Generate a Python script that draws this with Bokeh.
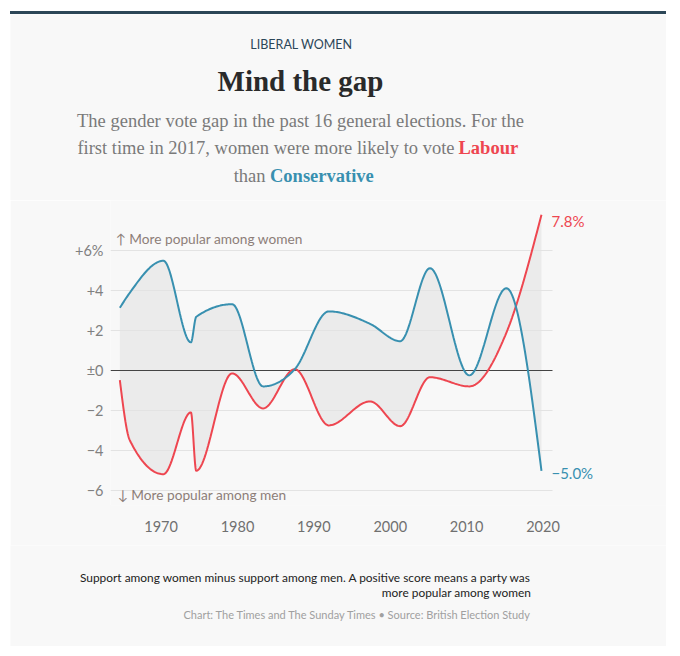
import numpy as np
from bokeh.plotting import figure
from bokeh.models import Range1d, FixedTicker, Label, Grid, Div, Plot
from bokeh.layouts import column, row
from bokeh.embed import file_html
from bokeh.resources import INLINE

# ---------------- data ----------------
# position of each general election on the time axis, as drawn
election_x = [1964.6, 1965.9, 1970.3, 1973.9, 1974.6, 1979.3, 1983.35, 1987.5,
              1991.95, 1997.35, 2001.3, 2005.2, 2010.35, 2015.2, 2019.8]
# support among women minus support among men (percentage points)
conservative = [3.15, 3.9, 5.5, 1.42, 2.7, 3.33, -0.78, 0.08,
                2.97, 2.35, 1.48, 5.13, -0.23, 4.13, -5.0]
labour = [-0.47, -3.47, -5.17, -2.08, -5.0, -0.13, -1.88, 0.08,
          -2.73, -1.53, -2.77, -0.32, -0.78, 1.9, 7.8]
x_ticks = [1970, 1980, 1990, 2000, 2010, 2020]
x_tick_labels = ["1970", "1980", "1990", "2000", "2010", "2020"]
y_ticks = [-6, -4, -2, 0, 2, 4, 6]
y_tick_labels = ["\u22126", "\u22124", "\u22122", "\u00b10", "+2", "+4", "+6%"]

# ---------------- style ----------------
BG = "#f8f8f8"
RED = "#ee4650"
BLUE = "#3890b0"
SANS = "Lato"
SERIF = "Liberation Serif"
W = 656
HAS_ALIGN = "frame_align" in Plot.properties()


def monotone_x(xs, ys, n=30):
    """Smooth monotone-x cubic path through the points (like d3.curveMonotoneX)."""
    xs = np.asarray(xs, float)
    ys = np.asarray(ys, float)
    m = len(xs)
    h = np.diff(xs)
    s = np.diff(ys) / h
    sg = lambda v: -1.0 if v < 0 else 1.0
    t = np.zeros(m)
    for i in range(1, m - 1):
        p_ = (s[i - 1] * h[i] + s[i] * h[i - 1]) / (h[i - 1] + h[i])
        t[i] = (sg(s[i - 1]) + sg(s[i])) * min(abs(s[i - 1]), abs(s[i]), 0.5 * abs(p_))
    t[0] = (3 * s[0] - t[1]) / 2
    t[-1] = (3 * s[-1] - t[-2]) / 2
    u = np.linspace(0, 1, n + 1)
    ox, oy = [], []
    for i in range(m - 1):
        x0, x1, y0, y1 = xs[i], xs[i + 1], ys[i], ys[i + 1]
        dx = (x1 - x0) / 3
        c0 = y0 + dx * t[i]
        c1 = y1 - dx * t[i + 1]
        uu = u if i == 0 else u[1:]
        by = (1 - uu) ** 3 * y0 + 3 * (1 - uu) ** 2 * uu * c0 + 3 * (1 - uu) * uu ** 2 * c1 + uu ** 3 * y1
        ox.extend((x0 + (x1 - x0) * uu).tolist())
        oy.extend(by.tolist())
    return ox, oy


# page-pixel -> data helpers for the chart panel (layout only)
def X(px):
    return 1970 + (px - 160.6) / 7.638


def Y(py):
    return (370.3 - py) / 20.0


def blank(height, y_top, y_bottom):
    f = figure(width=W, height=height, output_backend="svg", toolbar_location=None,
               x_range=Range1d(10, 10 + W), y_range=Range1d(y_bottom, y_top),
               x_axis_type=None, y_axis_type=None,
               min_border=0, min_border_left=0, min_border_right=0,
               min_border_top=0, min_border_bottom=0,
               background_fill_color=BG, border_fill_color=BG, outline_line_color=None,
               margin=(0, 0, 0, 10))
    f.xgrid.visible = False
    f.ygrid.visible = False
    if HAS_ALIGN:
        f.frame_align = False
    return f


# ---------------- header ----------------
head = blank(186, 14, 200)
head.add_layout(Label(x=301, y=44, text="LIBERAL WOMEN", text_color="#2b4658",
                      text_font=SANS, text_font_size="12.5px", text_align="center", text_baseline="middle"))
head.add_layout(Label(x=300, y=80, text="Mind the gap", text_color="#2a2a2a",
                      text_font=SERIF, text_font_style="bold", text_font_size="29px",
                      text_align="center", text_baseline="middle"))
SUB = "#7a7a7a"
head.add_layout(Label(x=300, y=120.4, text="The gender vote gap in the past 16 general elections. For the",
                      text_color=SUB, text_font=SERIF, text_font_size="18.5px",
                      text_align="center", text_baseline="middle"))
head.add_layout(Label(x=454, y=147.7, text="first time in 2017, women were more likely to vote",
                      text_color=SUB, text_font=SERIF, text_font_size="18.5px",
                      text_align="right", text_baseline="middle"))
head.add_layout(Label(x=458, y=147.7, text="Labour",
                      text_color=RED, text_font=SERIF, text_font_style="bold", text_font_size="18.5px",
                      text_align="left", text_baseline="middle"))
head.add_layout(Label(x=265, y=175.4, text="than",
                      text_color=SUB, text_font=SERIF, text_font_size="18.5px",
                      text_align="right", text_baseline="middle"))
head.add_layout(Label(x=269.5, y=175.4, text="Conservative",
                      text_color=BLUE, text_font=SERIF, text_font_style="bold", text_font_size="18.5px",
                      text_align="left", text_baseline="middle"))

# ---------------- chart ----------------
p = figure(width=W, height=345, output_backend="svg", toolbar_location=None,
           x_range=Range1d(X(110), X(666)), y_range=Range1d(Y(505), Y(200)),
           min_border_left=100, min_border_right=0, min_border_top=0, min_border_bottom=40,
           background_fill_color=BG, border_fill_color=BG, outline_line_color=None,
           margin=(0, 0, 0, 10))
if HAS_ALIGN:
    p.frame_align = False

p.xaxis.ticker = FixedTicker(ticks=x_ticks)
p.xaxis.major_label_overrides = {t: l for t, l in zip(x_ticks, x_tick_labels)}
p.yaxis.ticker = FixedTicker(ticks=y_ticks)
p.yaxis.major_label_overrides = {t: l for t, l in zip(y_ticks, y_tick_labels)}
for ax in (p.xaxis[0], p.yaxis[0]):
    ax.axis_line_color = None
    ax.major_tick_line_color = None
    ax.minor_tick_line_color = None
    ax.major_label_text_font = SANS
    ax.major_label_text_font_size = "14.5px"
    ax.major_label_text_color = "#808080"
p.xaxis.major_label_standoff = 9
p.yaxis.major_label_standoff = 1
p.xaxis.major_label_text_color = "#707070"
p.xgrid.visible = False
p.ygrid.visible = False

# plotted domain ends at the right edge of the grid; the strip beyond holds the end labels
x_domain = (X(110), X(552))

cx, cy = monotone_x(election_x, conservative)
lx, ly = monotone_x(election_x, labour)
p.varea(x=cx, y1=ly, y2=cy, fill_color="#ebebeb", level="underlay")

has_cross = "cross_bounds" in Grid.properties()
grid = Grid(dimension=1, ticker=FixedTicker(ticks=[t for t in y_ticks if t != 0]),
            grid_line_color="#e3e3e3", grid_line_width=1)
zero = Grid(dimension=1, ticker=FixedTicker(ticks=[0]), grid_line_color="#444444", grid_line_width=1)
if has_cross:
    grid.cross_bounds = x_domain
    zero.cross_bounds = x_domain
    p.add_layout(grid)
    p.add_layout(zero)
else:
    gy = [t for t in y_ticks if t != 0]
    p.segment(x0=[x_domain[0]] * len(gy), y0=gy, x1=[x_domain[1]] * len(gy), y1=gy,
              line_color="#e3e3e3", line_width=1, level="underlay")
    p.segment(x0=[x_domain[0]], y0=[0], x1=[x_domain[1]], y1=[0],
              line_color="#444444", line_width=1, level="underlay")

p.line(lx, ly, line_color=RED, line_width=2)
p.line(cx, cy, line_color=BLUE, line_width=2)

# end labels
p.add_layout(Label(x=election_x[-1], y=labour[-1], x_offset=10, y_offset=-6,
                   text=f"{labour[-1]:.1f}%", text_color=RED, text_font=SANS,
                   text_font_size="15px", text_baseline="middle", text_align="left"))
p.add_layout(Label(x=election_x[-1], y=conservative[-1], x_offset=10, y_offset=-2.5,
                   text=f"\u2212{abs(conservative[-1]):.1f}%", text_color=BLUE, text_font=SANS,
                   text_font_size="15px", text_baseline="middle", text_align="left"))

ANN = "#8d7e78"
p.add_layout(Label(x=X(115), y=Y(238), text="\u2191 More popular among women", text_color=ANN,
                   text_font=SANS, text_font_size="13.7px", text_baseline="middle"))
p.add_layout(Label(x=X(117), y=Y(494), text="\u2193 More popular among men", text_color=ANN,
                   text_font=SANS, text_font_size="13.7px", text_baseline="middle"))

# ---------------- footer ----------------
foot = blank(101, 545, 646)
foot.add_layout(Label(x=531, y=577,
                      text="Support among women minus support among men. A positive score means a party was",
                      text_color="#222222", text_font=SANS, text_font_size="11.9px",
                      text_align="right", text_baseline="middle"))
foot.add_layout(Label(x=531, y=592, text="more popular among women",
                      text_color="#222222", text_font=SANS, text_font_size="11.9px",
                      text_align="right", text_baseline="middle"))
foot.add_layout(Label(x=531, y=614,
                      text="Chart: The Times and The Sunday Times \u2022 Source: British Election Study",
                      text_color="#a0a0a0", text_font=SANS, text_font_size="11px",
                      text_align="right", text_baseline="middle"))

bar = Div(text="", width=W, height=3, margin=(11, 0, 0, 10),
          styles={"background-color": "#2c4657", "overflow": "hidden"})

if HAS_ALIGN:
    layout = column(bar, head, p, foot, spacing=0)
else:
    layout = column(bar, row(head), row(p), row(foot), spacing=0)
open("out.html", "w").write(file_html(layout, INLINE))
